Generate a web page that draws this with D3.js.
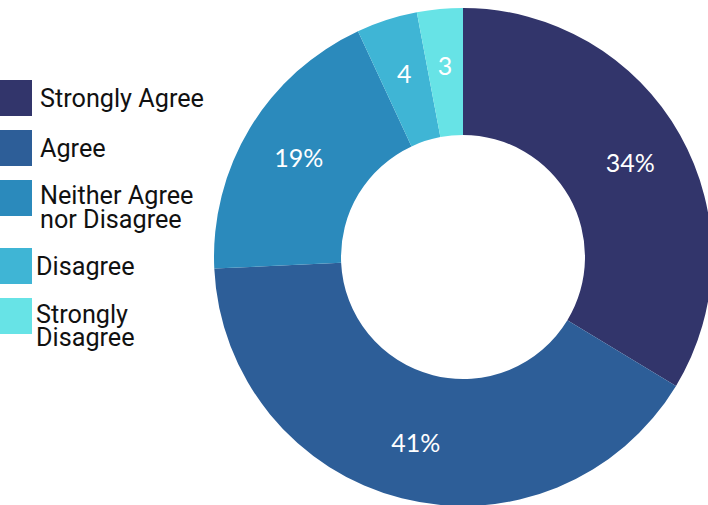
<!DOCTYPE html>
<html>
<head>
<meta charset="utf-8">
<script src="https://cdn.jsdelivr.net/npm/d3@7"></script>
<style>
  body { margin: 0; background: #fff; }
  svg { display: block; }
</style>
</head>
<body>
<div id="chart"></div>
<script>
// survey answers
var categories = ["Strongly Agree", "Agree", "Neither Agree\nnor Disagree", "Disagree", "Strongly\nDisagree"];
var values = [34, 41, 19, 4, 3];
var sliceLabels = ["34%", "41%", "19%", "4", "3"];
var colors = ["#32356b", "#2d5e98", "#2b8abc", "#3fb5d5", "#67e3e6"];

var width = 708, height = 505;
var cx = 463, cy = 257;
var outerR = 249, innerR = 122, labelR = 192;

var svg = d3.select("#chart")
  .append("svg")
  .attr("width", width)
  .attr("height", height);

var pie = d3.pie().sort(null).value(function(d) { return d; });
var arc = d3.arc().innerRadius(innerR).outerRadius(outerR);
var labelArc = d3.arc().innerRadius(labelR).outerRadius(labelR);

var g = svg.append("g").attr("transform", "translate(" + cx + "," + cy + ")");

var arcs = pie(values);

g.selectAll("path")
  .data(arcs)
  .enter()
  .append("path")
  .attr("d", arc)
  .attr("fill", function(d, i) { return colors[i]; });

g.selectAll("text.lbl")
  .data(arcs)
  .enter()
  .append("text")
  .attr("class", "lbl")
  .attr("transform", function(d) { return "translate(" + labelArc.centroid(d) + ")"; })
  .attr("text-anchor", "middle")
  .attr("dy", "0.36em")
  .style("font-family", "Lato, 'Open Sans', sans-serif")
  .style("font-size", "25px")
  .style("fill", "#fff")
  .text(function(d, i) { return sliceLabels[i]; });

// legend - two line entries take more room
var legPos = [];
var yy = 80;
categories.forEach(function(c, i) {
  legPos.push(yy);
  yy += 50 + (c.split("\n").length - 1) * 18;
});

var leg = svg.append("g").attr("class", "legend");

var item = leg.selectAll("g")
  .data(categories)
  .enter()
  .append("g")
  .attr("transform", function(d, i) { return "translate(0," + legPos[i] + ")"; });

item.append("rect")
  .attr("x", 0)
  .attr("width", 32)
  .attr("height", 36)
  .attr("fill", function(d, i) { return colors[i]; });

item.each(function(d, i) {
  var lines = d.split("\n");
  var x = i >= 3 ? 36 : 40;
  var gap = i == 4 ? 23 : 24;
  var y0 = lines.length > 1 ? (i == 4 ? 25 : 24) : 27;
  var t = d3.select(this).append("text")
    .attr("x", x)
    .attr("y", y0)
    .style("font-family", "Roboto, sans-serif")
    .style("font-size", "26px")
    .style("fill", "#111");
  lines.forEach(function(l, j) {
    t.append("tspan")
      .attr("x", x)
      .attr("dy", j == 0 ? 0 : gap)
      .text(l);
  });
  t.attr("transform", "translate(" + x + ",0) scale(0.97,1) translate(" + (-x) + ",0)");
});
</script>
</body>
</html>
